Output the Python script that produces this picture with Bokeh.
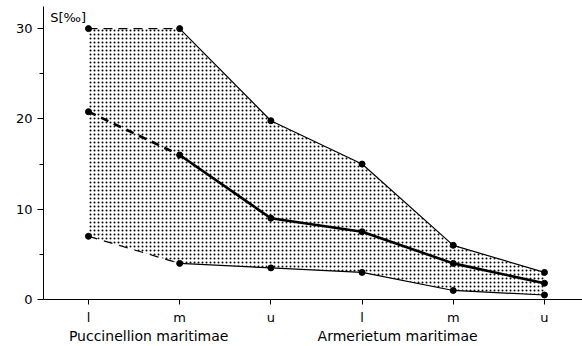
from bokeh.plotting import figure
from bokeh.models import FixedTicker, LinearAxis, Label, Range1d
from bokeh.embed import file_html
from bokeh.resources import INLINE

# categories along the transect
stages = ["l", "m", "u", "l", "m", "u"]
groups = ["Puccinellion maritimae", "Armerietum maritimae"]
group_pos = [0.66, 3.39]

# salinity S [‰]
upper = [30, 30, 19.8, 15, 6, 3]
middle = [20.8, 16, 9, 7.5, 4, 1.8]
lower = [7, 4, 3.5, 3, 1, 0.5]

x = list(range(len(stages)))

FONT = "DejaVu Sans"

p = figure(width=582, height=346, output_backend="svg", toolbar_location=None,
           x_range=Range1d(-0.493, 5.417), y_range=Range1d(0, 32.45),
           min_border_left=43, min_border_right=0, min_border_top=6, min_border_bottom=0,
           x_axis_location=None, y_axis_location=None)
p.outline_line_color = None
p.grid.visible = False
p.background_fill_color = "white"
p.border_fill_color = "white"

# stippled band
p.varea(x=x, y1=lower, y2=upper, fill_alpha=0, hatch_pattern=".",
        hatch_color="black", hatch_scale=4, hatch_weight=1.8)

# upper envelope
p.line(x[:2], upper[:2], line_color="black", line_width=1.2, line_dash="9 6")
p.line(x[1:], upper[1:], line_color="black", line_width=1.2)
# lower envelope
p.line(x[:2], lower[:2], line_color="black", line_width=1.2, line_dash="9 7")
p.line(x[1:], lower[1:], line_color="black", line_width=1.2)
# mean
p.line(x[:2], middle[:2], line_color="black", line_width=2.6, line_dash="8 6")
p.line(x[1:], middle[1:], line_color="black", line_width=2.6)

for ys in (upper, middle, lower):
    p.scatter(x, ys, size=6, color="black")

# y axis
yax = LinearAxis(ticker=FixedTicker(ticks=[0, 10, 20, 30], minor_ticks=[5, 15, 25]))
yax.axis_line_color = "black"
yax.major_tick_out = 6
yax.major_tick_in = 0
yax.minor_tick_out = 4
yax.minor_tick_in = 0
yax.major_label_text_font = FONT
yax.major_label_text_font_size = "13px"
yax.major_label_text_color = "black"
yax.major_label_standoff = 5
p.add_layout(yax, "left")

# x axis with stage ticks
xax = LinearAxis(ticker=FixedTicker(ticks=x),
                 major_label_overrides={i: s for i, s in enumerate(stages)})
xax.axis_line_color = "black"
xax.axis_line_width = 1.2
xax.major_tick_out = 5
xax.major_tick_in = 0
xax.minor_tick_line_color = None
xax.major_label_text_font = FONT
xax.major_label_text_font_size = "13px"
xax.major_label_text_color = "black"
xax.major_label_standoff = 5
p.add_layout(xax, "below")

# group labels
gax = LinearAxis(ticker=FixedTicker(ticks=group_pos),
                 major_label_overrides={g: n for g, n in zip(group_pos, groups)})
gax.axis_line_color = None
gax.major_tick_line_color = None
gax.minor_tick_line_color = None
gax.major_tick_out = 0
gax.major_tick_in = 0
gax.major_label_text_font = FONT
gax.major_label_text_font_size = "14px"
gax.major_label_text_color = "black"
gax.major_label_standoff = 0
p.add_layout(gax, "below")

p.add_layout(Label(x=-0.42, y=31.2, text="S[‰]", text_font=FONT,
                   text_font_size="13px", text_color="black", text_baseline="middle"))

open("out.html", "w").write(file_html(p, INLINE))
